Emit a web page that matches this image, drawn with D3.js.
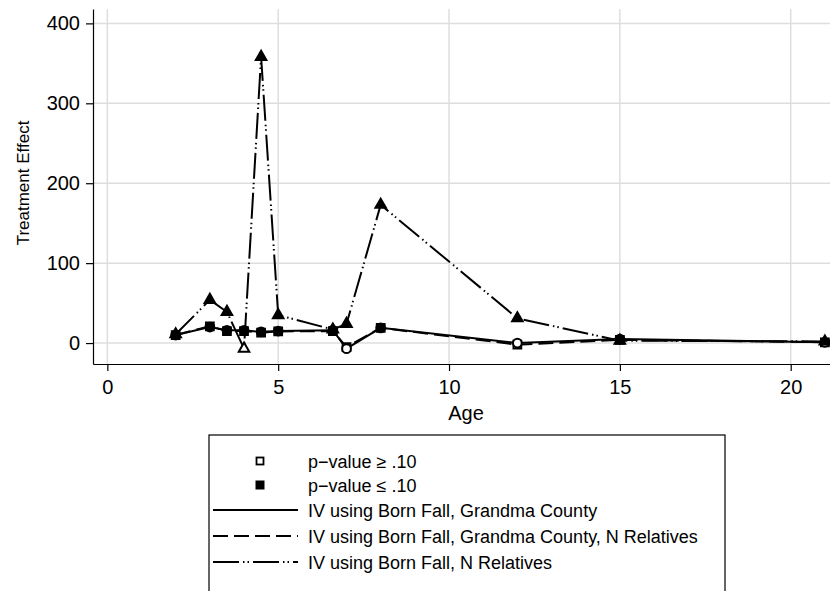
<!DOCTYPE html>
<html>
<head>
<meta charset="utf-8">
<script src="https://cdn.jsdelivr.net/npm/d3@7"></script>
<style>
  body { margin: 0; background: #fff; }
  svg { font-family: "Liberation Sans", Arial, sans-serif; }
</style>
</head>
<body>
<svg></svg>
<script>
// ages and treatment effects
const ages = [2, 3, 3.5, 4, 4.5, 5, 6.6, 7, 8, 12, 15, 21];
const grandma = [10, 20, 16, 16, 14, 15, 16, -7, 19, 0, 5, 1];
const grandmaRel = [10, 21, 15, 15, 13, 14.5, 15, -5, 19, -2, 4, 1];
const relatives = [11, 54, 39, -7, 358, 35, 17, 24, 173, 31, 3, 2];
// true = p-value <= .10 (filled marker)
const sigGrandma = [true, true, true, true, true, true, true, false, true, false, true, false];
const sigGrandmaRel = [true, true, true, true, true, true, true, false, true, false, true, false];
const sigRelatives = [true, true, true, false, true, true, true, true, true, true, true, true];

const xTicks = [0, 5, 10, 15, 20];
const yTicks = [0, 100, 200, 300, 400];
const legendLabels = ["p\u2212value \u2265 .10", "p\u2212value \u2264 .10",
    "IV using Born Fall, Grandma County",
    "IV using Born Fall, Grandma County, N Relatives",
    "IV using Born Fall, N Relatives"];

const W = 830, H = 591;
const margin = {top: 9, right: 0, bottom: 227, left: 93};
const width = W - margin.left - margin.right,
    height = H - margin.top - margin.bottom;

const svg = d3.select("svg")
    .attr("width", W)
    .attr("height", H);

const g = svg.append("g")
    .attr("transform", "translate(" + margin.left + "," + margin.top + ")");

// scales
const x = d3.scaleLinear().domain([-0.42, 21.15]).range([0, width]);
const y = d3.scaleLinear().domain([-26.2, 418]).range([height, 0]);

// grid
g.append("g").selectAll("line")
    .data(yTicks)
    .enter().append("line")
    .attr("x1", 0).attr("x2", width)
    .attr("y1", d => y(d)).attr("y2", d => y(d))
    .attr("stroke", "#dedede").attr("stroke-width", 1.5);

g.append("g").selectAll("line")
    .data(xTicks)
    .enter().append("line")
    .attr("y1", 0).attr("y2", height)
    .attr("x1", d => x(d)).attr("x2", d => x(d))
    .attr("stroke", "#dedede").attr("stroke-width", 1.5);

// axes
const xAxis = g.append("g")
    .attr("transform", "translate(0," + height + ")")
    .call(d3.axisBottom(x).tickValues(xTicks).tickSize(7).tickPadding(9).tickSizeOuter(0));
const yAxis = g.append("g")
    .call(d3.axisLeft(y).tickValues(yTicks).tickSize(7).tickPadding(6).tickSizeOuter(0));

[xAxis, yAxis].forEach(a => {
  a.select(".domain").attr("stroke", "#000").attr("stroke-width", 1.2);
  a.selectAll(".tick line").attr("stroke", "#000").attr("stroke-width", 1.2);
  a.selectAll("text")
    .attr("fill", "#000")
    .style("font-family", "'Liberation Sans', Arial, sans-serif")
    .style("font-size", "20px");
});

svg.append("text")
    .attr("x", 466)
    .attr("y", 420)
    .style("text-anchor", "middle")
    .style("font-size", "20px")
    .text("Age");

svg.append("text")
    .attr("transform", "rotate(-90)")
    .attr("x", -183)
    .attr("y", 29)
    .style("text-anchor", "middle")
    .style("font-size", "17px")
    .text("Treatment Effect");

// lines and markers
const plot = g.append("g");

const series = [
  {vals: grandmaRel, sig: sigGrandmaRel, dash: "15,6", shape: d3.symbolSquare, size: 60},
  {vals: grandma, sig: sigGrandma, dash: null, shape: d3.symbolCircle, size: 60},
  {vals: relatives, sig: sigRelatives, dash: "26,4,1.5,3,1.5,4", shape: d3.symbolTriangle, size: 48}
];

const line = d3.line()
    .x((d, i) => x(ages[i]))
    .y(d => y(d));

series.forEach(s => {
  plot.append("path")
      .datum(s.vals)
      .attr("fill", "none")
      .attr("stroke", "#000")
      .attr("stroke-width", 2)
      .attr("stroke-dasharray", s.dash)
      .attr("d", line);
});

series.forEach(s => {
  plot.append("g").selectAll("path")
      .data(s.vals)
      .enter().append("path")
      .attr("transform", (d, i) => "translate(" + x(ages[i]) + "," + y(d) + ")")
      .attr("d", d3.symbol().type(s.shape).size(s.size))
      .attr("fill", (d, i) => s.sig[i] ? "#000" : "#fff")
      .attr("stroke", "#000")
      .attr("stroke-width", 2);
});

// legend
const legend = svg.append("g");
legend.append("rect")
    .attr("x", 209).attr("y", 435)
    .attr("width", 516).attr("height", 170)
    .attr("fill", "#fff")
    .attr("stroke", "#000")
    .attr("stroke-width", 1.2);

const rowY = [461, 485, 510, 536, 562];

legend.selectAll(".lbl")
    .data(legendLabels)
    .enter().append("text")
    .attr("class", "lbl")
    .attr("x", 308)
    .attr("y", (d, i) => rowY[i] + 6.5)
    .style("font-size", "18px")
    .text(d => d);

legend.append("rect")
    .attr("x", 256.5).attr("y", rowY[0] - 3.5)
    .attr("width", 7).attr("height", 7)
    .attr("fill", "#fff").attr("stroke", "#000").attr("stroke-width", 1.8);
legend.append("rect")
    .attr("x", 255.5).attr("y", rowY[1] - 4.5)
    .attr("width", 9).attr("height", 9)
    .attr("fill", "#000");

const dashes = [null, "15,6", "26,4,1.5,3,1.5,4"];
legend.selectAll(".ln")
    .data(dashes)
    .enter().append("line")
    .attr("class", "ln")
    .attr("x1", 213).attr("x2", 298)
    .attr("y1", (d, i) => rowY[i + 2]).attr("y2", (d, i) => rowY[i + 2])
    .attr("stroke", "#000")
    .attr("stroke-width", 1.8)
    .attr("stroke-dasharray", d => d);
</script>
</body>
</html>
